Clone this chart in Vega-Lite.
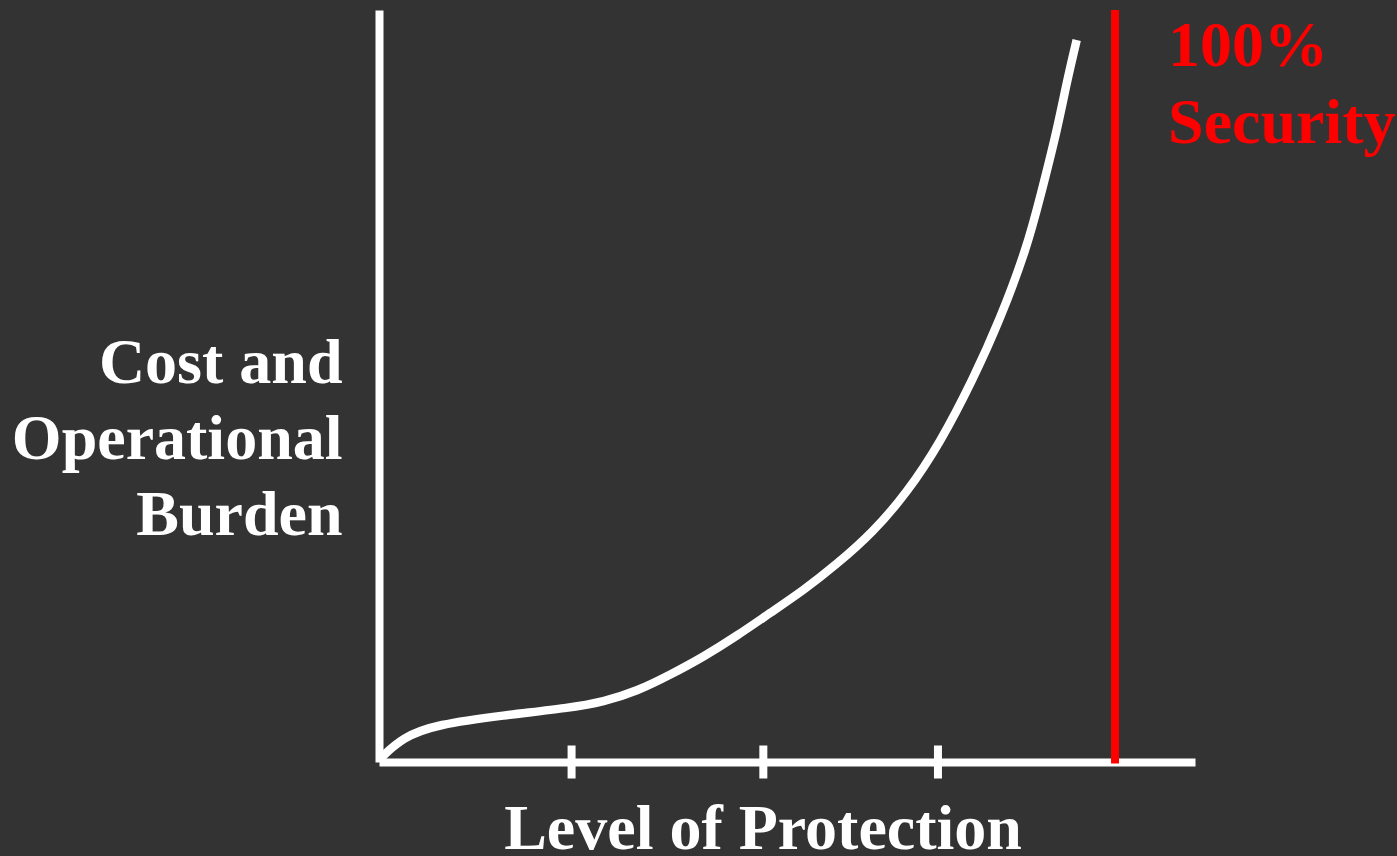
{
  "$schema": "https://vega.github.io/schema/vega-lite/v6.json",
  "width": 816,
  "height": 752,
  "autosize": {"type": "none"},
  "padding": {"left": 379, "top": 10, "right": 202, "bottom": 94},
  "background": "#333333",
  "config": {
    "view": {"stroke": null},
    "font": "Liberation Serif"
  },
  "datasets": {
    "curve": [
      {"protection": 0.1, "burden": 0.4},
      {"protection": 2.9, "burden": 3.3},
      {"protection": 7.1, "burden": 5.0},
      {"protection": 15.2, "burden": 6.2},
      {"protection": 23.4, "burden": 7.2},
      {"protection": 27.5, "burden": 8.0},
      {"protection": 31.6, "burden": 9.4},
      {"protection": 35.7, "burden": 11.6},
      {"protection": 39.8, "burden": 14.0},
      {"protection": 43.9, "burden": 16.8},
      {"protection": 47.9, "burden": 19.8},
      {"protection": 52.0, "burden": 22.8},
      {"protection": 56.1, "burden": 26.3},
      {"protection": 60.5, "burden": 30.5},
      {"protection": 64.7, "burden": 35.8},
      {"protection": 68.8, "burden": 42.5},
      {"protection": 72.8, "burden": 50.9},
      {"protection": 76.1, "burden": 58.8},
      {"protection": 79.4, "burden": 68.4},
      {"protection": 81.0, "burden": 75.0},
      {"protection": 83.1, "burden": 84.0},
      {"protection": 84.3, "burden": 90.5},
      {"protection": 85.5, "burden": 96.0}
    ],
    "ticks": [
      {"protection": 23.6, "burden": 0},
      {"protection": 47.1, "burden": 0},
      {"protection": 68.5, "burden": 0}
    ],
    "limit": [
      {"protection": 90.2, "bottom": -0.2, "top": 100, "label": "100%\nSecurity", "labelX": 96.7, "labelY": 92.5}
    ]
  },
  "layer": [
    {
      "data": {"name": "curve"},
      "mark": {"type": "line", "color": "white", "strokeWidth": 8.5, "interpolate": "basis", "strokeCap": "butt"},
      "encoding": {
        "x": {
          "field": "protection", "type": "quantitative",
          "scale": {"domain": [0, 100], "nice": false, "zero": false},
          "axis": {
            "title": "Level of Protection",
            "titleColor": "white", "titleFont": "Liberation Serif", "titleFontWeight": "bold", "titleFontSize": 64,
            "titleX": 383.5, "titleY": 86.5, "titleAnchor": null, "titleAlign": "center", "titleBaseline": "alphabetic",
            "domainColor": "white", "domainWidth": 8, "ticks": false, "labels": false, "grid": false
          }
        },
        "y": {
          "field": "burden", "type": "quantitative",
          "scale": {"domain": [0, 100], "nice": false, "zero": false},
          "axis": {
            "title": ["Cost and", "Operational", "Burden"],
            "titleColor": "white", "titleFont": "Liberation Serif", "titleFontWeight": "bold", "titleFontSize": 64,
            "titleAngle": 0, "titleAlign": "right", "titleBaseline": "alphabetic", "titleLineHeight": 76,
            "titleX": -37, "titleY": 372, "titleAnchor": null,
            "domainColor": "white", "domainWidth": 8, "ticks": false, "labels": false, "grid": false
          }
        }
      }
    },
    {
      "data": {"name": "ticks"},
      "mark": {"type": "tick", "orient": "vertical", "color": "white", "size": 33, "thickness": 8, "opacity": 1},
      "encoding": {
        "x": {"field": "protection", "type": "quantitative"},
        "y": {"field": "burden", "type": "quantitative"}
      }
    },
    {
      "data": {"name": "limit"},
      "mark": {"type": "rule", "color": "#ff0000", "strokeWidth": 8},
      "encoding": {
        "x": {"field": "protection", "type": "quantitative"},
        "y": {"field": "bottom", "type": "quantitative"},
        "y2": {"field": "top"}
      }
    },
    {
      "data": {"name": "limit"},
      "mark": {"type": "text", "color": "#ff0000", "font": "Liberation Serif", "fontWeight": "bold", "fontSize": 64, "align": "left", "baseline": "alphabetic", "lineBreak": "\n", "lineHeight": 76.6},
      "encoding": {
        "x": {"field": "labelX", "type": "quantitative"},
        "y": {"field": "labelY", "type": "quantitative"},
        "text": {"field": "label"}
      }
    }
  ]
}
